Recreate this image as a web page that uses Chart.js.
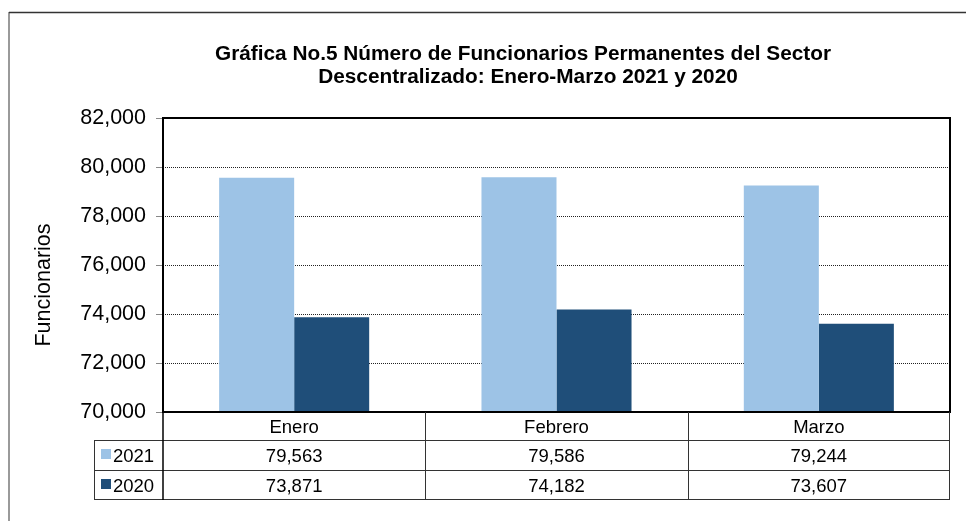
<!DOCTYPE html>
<html>
<head>
<meta charset="utf-8">
<script src="https://cdn.jsdelivr.net/npm/chart.js@4.4.1/dist/chart.umd.min.js"></script>
<style>
html,body{margin:0;padding:0;background:#fff;}
#wrap{width:966px;height:521px;position:relative;}
</style>
</head>
<body>
<div id="wrap"><canvas id="c" width="966" height="521"></canvas></div>
<script>
const categories = ['Enero', 'Febrero', 'Marzo'];
const seriesNames = ['2021', '2020'];
const values2021 = [79563, 79586, 79244];
const values2020 = [73871, 74182, 73607];
const yMin = 70000, yMax = 82000, yStep = 2000;
const titleLines = ['Gráfica No.5 Número de Funcionarios Permanentes del Sector', 'Descentralizado: Enero-Marzo 2021 y 2020'];
const yTitle = 'Funcionarios';
const colors = ['#9DC3E6', '#1F4E79'];

const FONT = '"Liberation Sans", Arial, sans-serif';
const fmt = v => v.toLocaleString('en-US');

const extras = {
  id: 'extras',
  afterDraw(chart) {
    const ctx = chart.ctx;
    const a = chart.chartArea;
    const xs = chart.scales.x;
    ctx.save();
    // outer frame
    ctx.strokeStyle = '#9a9a9a';
    ctx.lineWidth = 2;
    ctx.beginPath(); ctx.moveTo(9, 521); ctx.lineTo(9, 12); ctx.stroke();
    ctx.strokeStyle = '#333';
    ctx.lineWidth = 1.5;
    ctx.beginPath(); ctx.moveTo(9, 12.5); ctx.lineTo(966, 12.5); ctx.stroke();

    // title
    ctx.fillStyle = '#000';
    ctx.textAlign = 'center';
    ctx.textBaseline = 'alphabetic';
    ctx.font = 'bold 20px ' + FONT;
    [[titleLines[0], 523, 60], [titleLines[1], 528, 83]].forEach(([t, x, y]) => {
      ctx.save();
      ctx.translate(x, y);
      ctx.scale(1.04, 1);
      ctx.fillText(t, 0, 0);
      ctx.restore();
    });

    // y title
    ctx.save();
    ctx.translate(50, 285);
    ctx.rotate(-Math.PI / 2);
    ctx.font = '21.5px ' + FONT;
    ctx.textAlign = 'center';
    ctx.fillText(yTitle, 0, 0);
    ctx.restore();

    // plot border
    ctx.strokeStyle = '#000';
    ctx.lineWidth = 2;
    ctx.strokeRect(a.left, a.top, a.right - a.left, a.bottom - a.top);

    // data table
    const colW = (a.right - a.left) / categories.length;
    const rowTop = a.bottom, r1 = 440, r2 = 470, r3 = 499;
    const legL = 94;
    ctx.strokeStyle = '#333';
    ctx.lineWidth = 1;
    ctx.beginPath();
    [r1, r2, r3].forEach(y => { ctx.moveTo(legL, y + 0.5); ctx.lineTo(a.right, y + 0.5); });
    ctx.moveTo(legL + 0.5, r1); ctx.lineTo(legL + 0.5, r3);
    for (let i = 1; i < categories.length; i++) {
      const x = Math.round(xs.getPixelForValue(i) - colW / 2) + 0.5;
      ctx.moveTo(x, rowTop); ctx.lineTo(x, r3);
    }
    ctx.moveTo(Math.round(a.right) - 0.5, rowTop); ctx.lineTo(Math.round(a.right) - 0.5, r3 + 1);
    ctx.stroke();
    ctx.strokeStyle = '#000';
    ctx.lineWidth = 1.5;
    ctx.beginPath(); ctx.moveTo(a.left, rowTop); ctx.lineTo(a.left, r3 + 1); ctx.stroke();

    ctx.fillStyle = '#000';
    ctx.font = '18.5px ' + FONT;
    ctx.textAlign = 'center';
    const rows = [values2021, values2020];
    const baselines = [462, 492];
    categories.forEach((c, i) => {
      const cx = xs.getPixelForValue(i);
      ctx.fillText(c, cx, 433);
      rows.forEach((vals, j) => ctx.fillText(fmt(vals[i]), cx, baselines[j]));
    });
    ctx.textAlign = 'left';
    seriesNames.forEach((n, j) => {
      ctx.fillStyle = colors[j];
      ctx.fillRect(101, baselines[j] - 13, 10, 10);
      ctx.fillStyle = '#000';
      ctx.fillText(n, 113, baselines[j]);
    });
    ctx.restore();
  }
};

new Chart(document.getElementById('c'), {
  type: 'bar',
  data: {
    labels: categories,
    datasets: [
      { label: seriesNames[0], data: values2021, backgroundColor: colors[0], borderWidth: 0 },
      { label: seriesNames[1], data: values2020, backgroundColor: colors[1], borderWidth: 0 }
    ]
  },
  options: {
    responsive: false,
    animation: false,
    layout: { padding: { top: 118, right: 16, left: 0, bottom: 0 } },
    datasets: { bar: { categoryPercentage: 0.572, barPercentage: 1.0 } },
    plugins: { legend: { display: false }, title: { display: false }, tooltip: { enabled: false } },
    scales: {
      x: {
        grid: { display: false },
        ticks: { display: false },
        border: { display: false },
        afterFit: s => { s.height = 109; }
      },
      y: {
        min: yMin, max: yMax,
        afterFit: s => { s.width = 163; },
        ticks: { stepSize: yStep, padding: 10, color: '#000', font: { family: FONT, size: 21.5 }, callback: v => fmt(v) },
        grid: { color: '#222', lineWidth: 1, tickLength: 7, tickColor: '#888', tickBorderDash: [] },
        border: { display: false, dash: [1, 1] }
      }
    }
  },
  plugins: [extras]
});
</script>
</body>
</html>
